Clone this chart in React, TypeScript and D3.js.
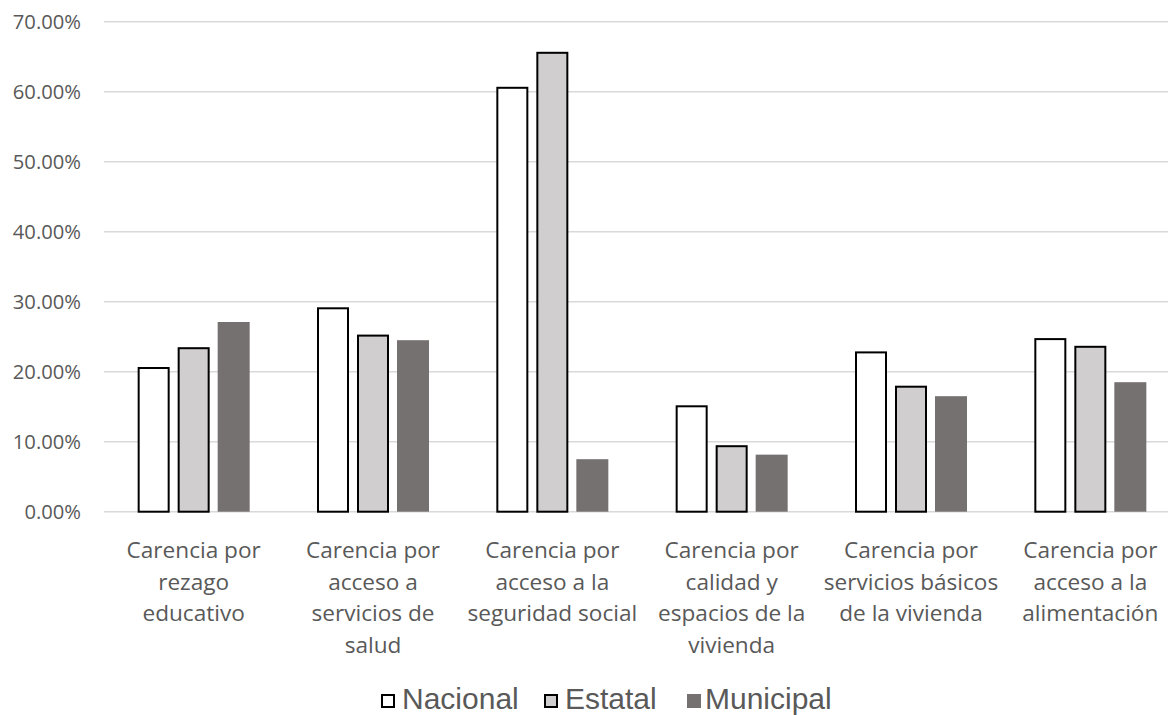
import React from "react";
import * as d3 from "d3";

const categories = [
  ["Carencia por", "rezago", "educativo"],
  ["Carencia por", "acceso a", "servicios de", "salud"],
  ["Carencia por", "acceso a la", "seguridad social"],
  ["Carencia por", "calidad y", "espacios de la", "vivienda"],
  ["Carencia por", "servicios básicos", "de la vivienda"],
  ["Carencia por", "acceso a la", "alimentación"],
];
const seriesNames = ["Nacional", "Estatal", "Municipal"];
const nacional = [0.2067, 0.292, 0.607, 0.152, 0.229, 0.248];
const estatal = [0.235, 0.253, 0.657, 0.095, 0.18, 0.237];
const municipal = [0.271, 0.245, 0.075, 0.0815, 0.165, 0.185];
const yTicks = [0, 0.1, 0.2, 0.3, 0.4, 0.5, 0.6, 0.7];

const fills = ["#ffffff", "#d0cece", "#767171"];
const strokes = ["#000000", "#000000", "none"];

export default function App() {
  const W = 1168;
  const H = 715;
  const values = [nacional, estatal, municipal];
  const keys = categories.map((_, i) => String(i));
  const x0 = d3.scaleBand<string>().domain(keys).range([104, 1180]).padding(0);
  const groupW = 112;
  const x1 = d3.scaleBand<string>().domain(seriesNames).range([0, groupW]).paddingInner(0.2);
  const y = d3.scaleLinear().domain([0, 0.7]).range([511.7, 21.7]);
  const fmt = (v: number) => (v * 100).toFixed(2) + "%";
  const textColor = "#595959";
  const off = (x0.bandwidth() - groupW) / 2;

  const legendItems = [
    { name: "Nacional", box: 381, text: 402 },
    { name: "Estatal", box: 544, text: 565 },
    { name: "Municipal", box: 687, text: 705 },
  ];

  return (
    <svg width={W} height={H} style={{ position: "absolute", left: 0, top: 0, background: "#fff" }}>
      <rect x={0} y={0} width={W} height={H} fill="#fff" />
      {yTicks.map((t) => (
        <g key={t}>
          <line x1={104} x2={W} y1={y(t)} y2={y(t)} stroke="#d9d9d9" strokeWidth={1.5} />
          <text
            x={81}
            y={y(t)}
            dy="0.36em"
            textAnchor="end"
            fontFamily="Open Sans"
            fontSize={20.2}
            fill={textColor}
          >
            {fmt(t)}
          </text>
        </g>
      ))}
      {keys.map((k, i) => (
        <g key={k} transform={`translate(${(x0(k) as number) + off},0)`}>
          {seriesNames.map((s, j) => {
            const v = values[j][i];
            const bx = x1(s) as number;
            const bw = x1.bandwidth();
            const hasStroke = strokes[j] !== "none";
            return (
              <rect
                key={s}
                x={hasStroke ? bx + 1 : bx}
                y={hasStroke ? y(v) + 1 : y(v)}
                width={hasStroke ? bw - 2 : bw}
                height={hasStroke ? y(0) - y(v) - 1 : y(0) - y(v)}
                fill={fills[j]}
                stroke={strokes[j]}
                strokeWidth={2}
              />
            );
          })}
        </g>
      ))}
      {categories.map((lines, i) => {
        const cx = (x0(String(i)) as number) + x0.bandwidth() / 2;
        return (
          <text key={i} textAnchor="middle" fontFamily="Open Sans" fontSize={22.6} fill={textColor}>
            {lines.map((l, li) => (
              <tspan key={li} x={cx} y={558 + li * 31.7}>
                {l}
              </tspan>
            ))}
          </text>
        );
      })}
      {legendItems.map((it, j) => (
        <g key={it.name}>
          <rect
            x={it.box + (j < 2 ? 1 : 0)}
            y={694 + (j < 2 ? 1 : 0)}
            width={j < 2 ? 12 : 14}
            height={j < 2 ? 12 : 14}
            fill={fills[j]}
            stroke={strokes[j]}
            strokeWidth={2}
          />
          <text x={it.text} y={709} fontFamily="Liberation Sans" fontSize={30} fill={textColor}>
            {it.name}
          </text>
        </g>
      ))}
    </svg>
  );
}
